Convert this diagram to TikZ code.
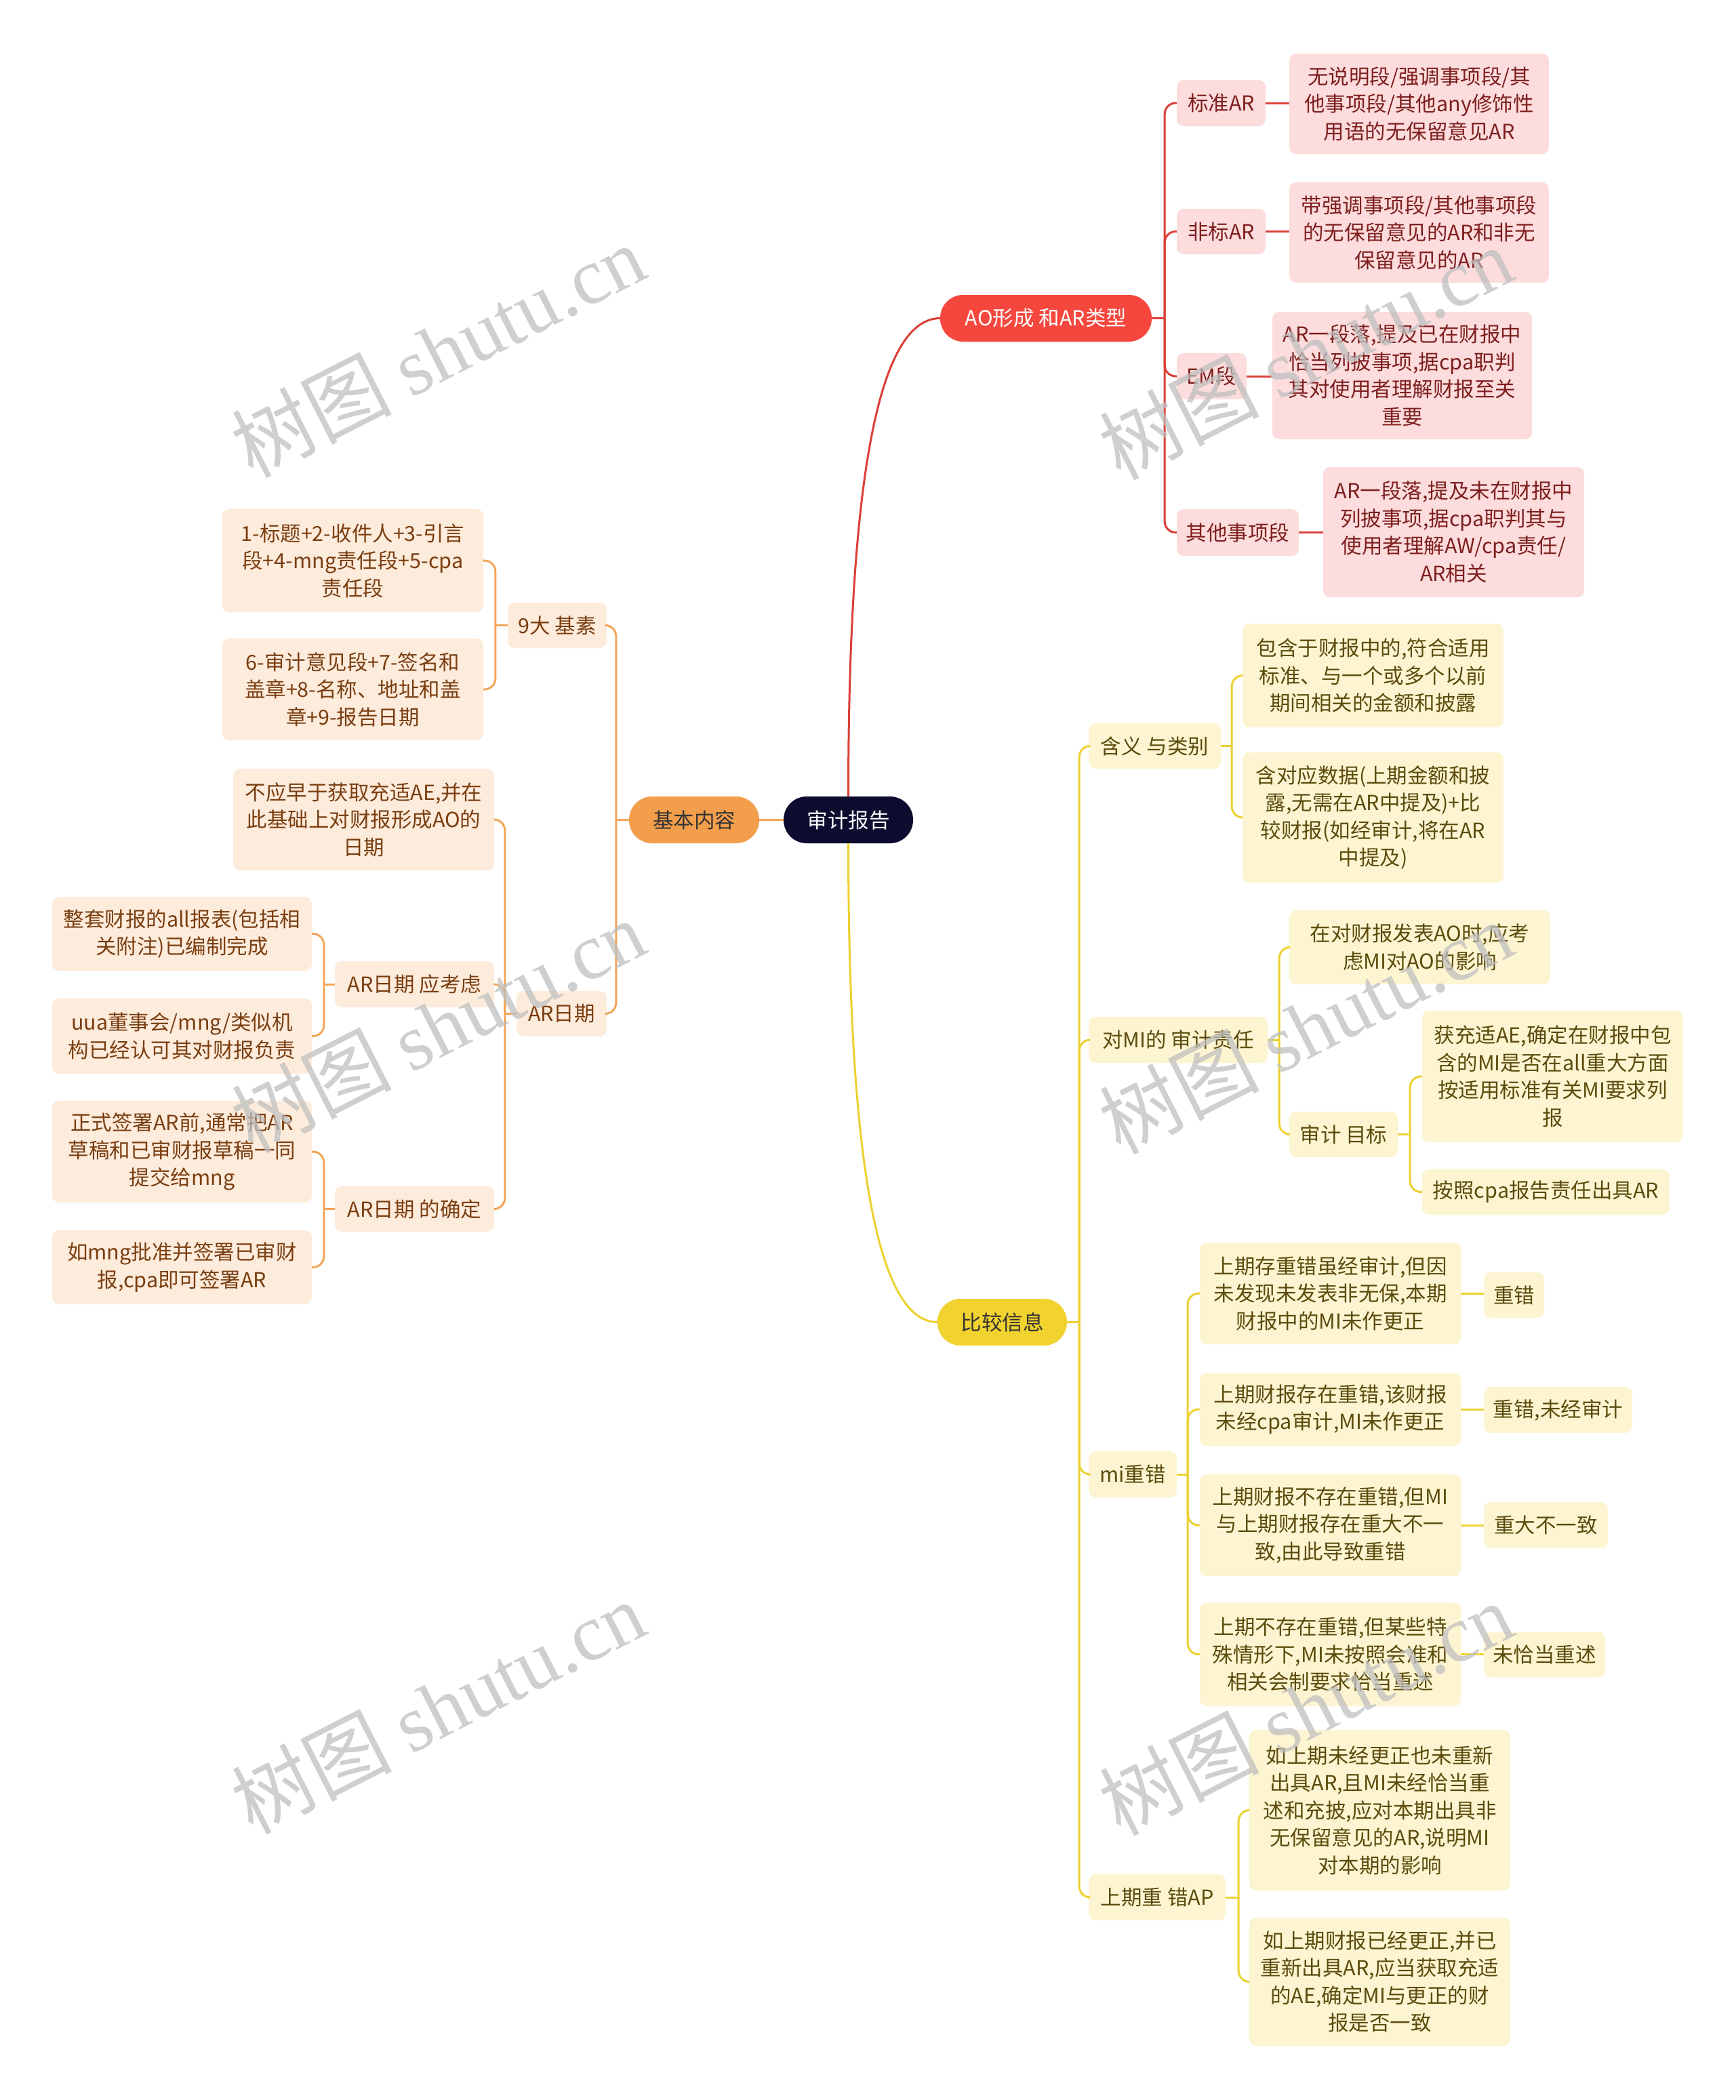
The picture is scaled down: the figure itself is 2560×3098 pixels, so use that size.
\documentclass[tikz,border=0pt]{standalone}
\usepackage{fontspec}
\setmainfont{Noto Sans CJK SC}
\newfontfamily\wmserif{Liberation Serif}
\newfontfamily\wmcjk{Noto Sans CJK SC}
\usetikzlibrary{calc}
\definecolor{rootc}{HTML}{0B0C2E}
\definecolor{aoc}{HTML}{F5473D}
\definecolor{cmpc}{HTML}{F1D22E}
\definecolor{jbc}{HTML}{F39E4C}
\definecolor{pinkf}{HTML}{FCDCDC}
\definecolor{pinkt}{HTML}{7E1F1F}
\definecolor{creamf}{HTML}{FDF5D2}
\definecolor{creamt}{HTML}{5B4B0C}
\definecolor{peachf}{HTML}{FDEBDC}
\definecolor{peacht}{HTML}{7A3E10}
\definecolor{redl}{HTML}{DC3F38}
\definecolor{yell}{HTML}{EDD130}
\definecolor{oral}{HTML}{F2A65A}
\newcommand\nfont{\fontsize{30.5}{40.5}\selectfont}
\begin{document}
\begin{tikzpicture}[x=1pt,y=-1pt,
  box/.style={rounded corners=10pt, inner sep=0pt, align=center, font=\nfont},
  pill/.style={rounded corners=34pt, inner sep=0pt, align=center, font=\nfont, minimum height=69},
  pk/.style={box, fill=pinkf, text=pinkt},
  cr/.style={box, fill=creamf, text=creamt},
  pc/.style={box, fill=peachf, text=peacht},
  rl/.style={draw=redl, line width=3pt},
  yl/.style={draw=yell, line width=3pt},
  ol/.style={draw=oral, line width=3pt},
  sp/.style={rounded corners=16pt},
  wm/.style={rotate=27, text=black!25, opacity=0.75, inner sep=0pt}
]
\useasboundingbox (0,0) rectangle (2560,3098);
\fill[white] (0,0) rectangle (2560,3098);

% main nodes
\node[pill, fill=rootc, text=white, minimum width=191] (root) at (1251.5,1209.5) {审计报告};
\node[pill, fill=aoc, text=white, minimum width=312] (ao) at (1543,469.5) {AO形成 和AR类型};
\node[pill, fill=cmpc, text=black!80, minimum width=191] (cmp) at (1478.5,1950.5) {比较信息};
\node[pill, fill=jbc, text=black!80, minimum width=192] (jb) at (1024,1209.5) {基本内容};

% red subtree
\node[pk, minimum width=131, minimum height=68] (bz) at (1801.5,152) {标准AR};
\node[pk, minimum width=131, minimum height=67] (fb) at (1801.5,341.5) {非标AR};
\node[pk, minimum width=103, minimum height=68] (em) at (1787.5,555) {EM段};
\node[pk, minimum width=180, minimum height=69] (qt) at (1826,785.5) {其他事项段};
\node[pk, minimum width=383, minimum height=148] (bzl) at (2093.5,153) {无说明段/强调事项段/其\\他事项段/其他any修饰性\\用语的无保留意见AR};
\node[pk, minimum width=383, minimum height=148] (fbl) at (2093.5,343) {带强调事项段/其他事项段\\的无保留意见的AR和非无\\保留意见的AR};
\node[pk, minimum width=383, minimum height=188] (eml) at (2068.5,554) {AR一段落,提及已在财报中\\恰当列披事项,据cpa职判\\其对使用者理解财报至关\\重要};
\node[pk, minimum width=385, minimum height=192] (qtl) at (2144.5,785) {AR一段落,提及未在财报中\\列披事项,据cpa职判其与\\使用者理解AW/cpa责任/\\AR相关};

% yellow subtree
\node[cr, minimum width=195, minimum height=67] (hy) at (1703.5,1100.5) {含义 与类别};
\node[cr, minimum width=264, minimum height=68] (dmi) at (1738,1534) {对MI的 审计责任};
\node[cr, minimum width=130, minimum height=68] (mic) at (1671,2175) {mi重错};
\node[cr, minimum width=202, minimum height=68] (sq) at (1707,2799) {上期重 错AP};
\node[cr, minimum width=385, minimum height=153] (y1) at (2025.5,996.5) {包含于财报中的,符合适用\\标准、与一个或多个以前\\期间相关的金额和披露};
\node[cr, minimum width=385, minimum height=192] (y2) at (2025.5,1206) {含对应数据(上期金额和披\\露,无需在AR中提及)+比\\较财报(如经审计,将在AR\\中提及)};
\node[cr, minimum width=385, minimum height=109] (y3) at (2094.5,1397.5) {在对财报发表AO时,应考\\虑MI对AO的影响};
\node[cr, minimum width=160, minimum height=67] (sjmb) at (1982,1673.5) {审计 目标};
\node[cr, minimum width=385, minimum height=194] (y4) at (2290.5,1588) {获充适AE,确定在财报中包\\含的MI是否在all重大方面\\按适用标准有关MI要求列\\报};
\node[cr, minimum width=365, minimum height=67] (y5) at (2280.5,1758.5) {按照cpa报告责任出具AR};
\node[cr, minimum width=385, minimum height=150] (m1) at (1962.5,1908) {上期存重错虽经审计,但因\\未发现未发表非无保,本期\\财报中的MI未作更正};
\node[cr, minimum width=385, minimum height=108] (m2) at (1962.5,2079) {上期财报存在重错,该财报\\未经cpa审计,MI未作更正};
\node[cr, minimum width=385, minimum height=150] (m3) at (1962.5,2250) {上期财报不存在重错,但MI\\与上期财报存在重大不一\\致,由此导致重错};
\node[cr, minimum width=385, minimum height=153] (m4) at (1962.5,2440.5) {上期不存在重错,但某些特\\殊情形下,MI未按照会准和\\相关会制要求恰当重述};
\node[cr, minimum width=89, minimum height=67] (r1) at (2233.5,1910.5) {重错};
\node[cr, minimum width=219, minimum height=68] (r2) at (2298.5,2080) {重错,未经审计};
\node[cr, minimum width=183, minimum height=68] (r3) at (2280.5,2250) {重大不一致};
\node[cr, minimum width=179, minimum height=67] (r4) at (2278.5,2441) {未恰当重述};
\node[cr, minimum width=385, minimum height=237] (p1) at (2035.5,2670.5) {如上期未经更正也未重新\\出具AR,且MI未经恰当重\\述和充披,应对本期出具非\\无保留意见的AR,说明MI\\对本期的影响};
\node[cr, minimum width=385, minimum height=189] (p2) at (2035.5,2923.5) {如上期财报已经更正,并已\\重新出具AR,应当获取充适\\的AE,确定MI与更正的财\\报是否一致};

% orange subtree
\node[pc, minimum width=146, minimum height=67] (jys) at (822,922.5) {9大 基素};
\node[pc, minimum width=133, minimum height=67] (arrq) at (828.5,1495.5) {AR日期};
\node[pc, minimum width=385, minimum height=152] (o1) at (520.5,827) {1-标题+2-收件人+3-引言\\段+4-mng责任段+5-cpa\\责任段};
\node[pc, minimum width=385, minimum height=150] (o2) at (520.5,1017) {6-审计意见段+7-签名和\\盖章+8-名称、地址和盖\\章+9-报告日期};
\node[pc, minimum width=385, minimum height=150] (o3) at (536.5,1209) {不应早于获取充适AE,并在\\此基础上对财报形成AO的\\日期};
\node[pc, minimum width=235, minimum height=68] (yk) at (611.5,1452) {AR日期 应考虑};
\node[pc, minimum width=235, minimum height=67] (qd) at (611.5,1783.5) {AR日期 的确定};
\node[pc, minimum width=383, minimum height=109] (o4) at (268.5,1377.5) {整套财报的all报表(包括相\\关附注)已编制完成};
\node[pc, minimum width=383, minimum height=111] (o5) at (268.5,1528.5) {uua董事会/mng/类似机\\构已经认可其对财报负责};
\node[pc, minimum width=383, minimum height=150] (o6) at (268.5,1699) {正式签署AR前,通常把AR\\草稿和已审财报草稿一同\\提交给mng};
\node[pc, minimum width=383, minimum height=109] (o7) at (268.5,1869.5) {如mng批准并签署已审财\\报,cpa即可签署AR};

% root connectors
\draw[rl] (root.north) .. controls ($(root.north)+(0,-375)$) and ($(ao.west)+(-107,0)$) .. (ao.west);
\draw[yl] (root.south) .. controls ($(root.south)+(0,400)$) and ($(cmp.west)+(-100,0)$) .. (cmp.west);
\draw[ol] (root.west) -- (jb.east);

% red spine
\coordinate (sao) at ($(ao.east)+(19,0)$);
\draw[rl] (ao.east) -- (sao);
\foreach \c in {bz,fb,em,qt} \draw[rl,sp] (sao) |- (\c.west);
\draw[rl] (bz.east) -- (bz.east -| bzl.west);
\draw[rl] (fb.east) -- (fb.east -| fbl.west);
\draw[rl] (em.east) -- (em.east -| eml.west);
\draw[rl] (qt.east) -- (qt.east -| qtl.west);

% yellow spines
\coordinate (scmp) at ($(cmp.east)+(18,0)$);
\draw[yl] (cmp.east) -- (scmp);
\foreach \c in {hy,dmi,mic,sq} \draw[yl,sp] (scmp) |- (\c.west);
\coordinate (shy) at ($(hy.east)+(16,0)$);
\draw[yl] (hy.east) -- (shy);
\foreach \c in {y1,y2} \draw[yl,sp] (shy) |- (\c.west);
\coordinate (sdmi) at ($(dmi.east)+(17,0)$);
\draw[yl] (dmi.east) -- (sdmi);
\foreach \c in {y3,sjmb} \draw[yl,sp] (sdmi) |- (\c.west);
\coordinate (ssj) at ($(sjmb.east)+(18,0)$);
\draw[yl] (sjmb.east) -- (ssj);
\foreach \c in {y4,y5} \draw[yl,sp] (ssj) |- (\c.west);
\coordinate (smic) at ($(mic.east)+(16,0)$);
\draw[yl] (mic.east) -- (smic);
\foreach \c in {m1,m2,m3,m4} \draw[yl,sp] (smic) |- (\c.west);
\draw[yl] (m1.east) -- (m1.east -| r1.west);
\draw[yl] (m2.east) -- (m2.east -| r2.west);
\draw[yl] (m3.east) -- (m3.east -| r3.west);
\draw[yl] (m4.east) -- (m4.east -| r4.west);
\coordinate (ssq) at ($(sq.east)+(19,0)$);
\draw[yl] (sq.east) -- (ssq);
\foreach \c in {p1,p2} \draw[yl,sp] (ssq) |- (\c.west);

% orange spines
\coordinate (sjb) at ($(jb.west)+(-19,0)$);
\draw[ol] (jb.west) -- (sjb);
\foreach \c in {jys,arrq} \draw[ol,sp] (sjb) |- (\c.east);
\coordinate (sjys) at ($(jys.west)+(-18,0)$);
\draw[ol] (jys.west) -- (sjys);
\foreach \c in {o1,o2} \draw[ol,sp] (sjys) |- (\c.east);
\coordinate (sar) at ($(arrq.west)+(-17,0)$);
\draw[ol] (arrq.west) -- (sar);
\foreach \c in {o3,yk,qd} \draw[ol,sp] (sar) |- (\c.east);
\coordinate (syk) at ($(yk.west)+(-16,0)$);
\draw[ol] (yk.west) -- (syk);
\foreach \c in {o4,o5} \draw[ol,sp] (syk) |- (\c.east);
\coordinate (sqd) at ($(qd.west)+(-16,0)$);
\draw[ol] (qd.west) -- (sqd);
\foreach \c in {o6,o7} \draw[ol,sp] (sqd) |- (\c.east);

% watermarks
\foreach \wx/\wy/\wn in {646/517/wa,646/1513/wb,646/2518/wc,1926/520/wd,1926/1515/we,1926/2520/wf}
  \node[wm] (\wn) at (\wx,\wy) {\fontsize{118}{118}\selectfont{\wmcjk 树图} {\wmserif shutu.cn}};
\end{tikzpicture}
\end{document}
